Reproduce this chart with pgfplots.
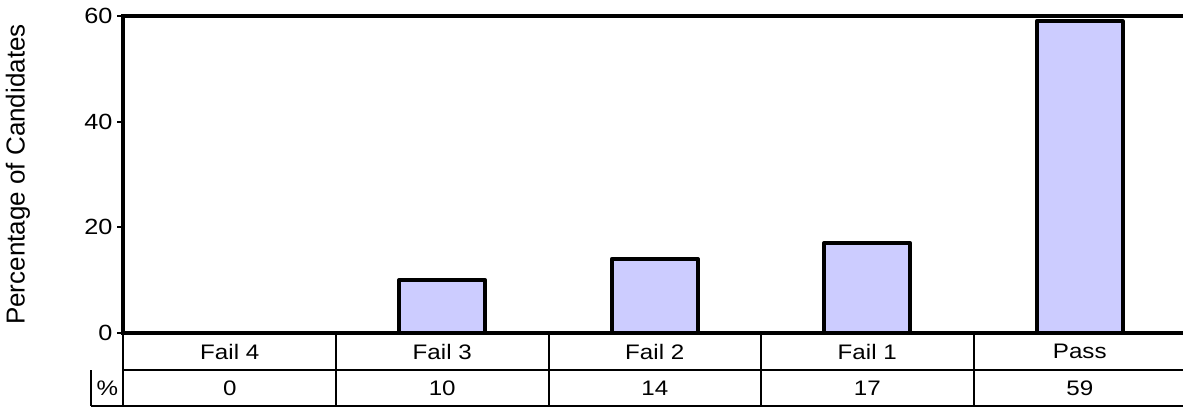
\documentclass[border=0pt]{standalone}
\usepackage{fontspec}
\setmainfont{Liberation Sans}
\newfontfamily\tabfont[FakeStretch=1.15]{Liberation Sans}
\usepackage{pgfplots}
\pgfplotsset{compat=1.18}
\definecolor{barfill}{HTML}{CCCCFF}
\begin{document}
\begin{tikzpicture}
\clip (-61.75pt,-37pt) rectangle (529.75pt,166.5pt);
\begin{axis}[
  at={(0,0)}, anchor=south west,
  scale only axis, width=531.25pt, height=158.5pt,
  xmin=-0.5, xmax=4.5, ymin=0, ymax=60,
  xtick=\empty, ytick={0,20,40,60},
  axis line style={line width=2pt, black},
  ytick align=outside, major tick length=3pt,
  tick style={black, line width=0.9pt},
  y tick label style={font=\tabfont\fontsize{11}{12}\selectfont, xshift=1pt},
  /pgf/number format/assume math mode=true,
  ylabel={Percentage of Candidates},
  ylabel style={font=\fontsize{13}{15}\selectfont, at={(axis description cs:-0.0993,0.5)}, anchor=center},
  clip=false,
]
\addplot[ybar, bar width=0.405, fill=barfill, draw=black, line width=2pt, line join=round]
  coordinates {(0,0) (1,10) (2,14) (3,17) (4,59)};
\end{axis}
% data table below the axis
\begin{scope}[line width=1pt]
  \draw (0,-18.5pt) -- (540pt,-18.5pt);
  \draw (-16.25pt,-36.5pt) -- (540pt,-36.5pt);
  \draw (-16.25pt,-18.5pt) -- (-16.25pt,-36.5pt);
  \draw (0,0) -- (0,-36.5pt);
  \foreach \k in {1,2,3,4} {\draw (106.25pt*\k,0) -- (106.25pt*\k,-36.5pt);}
\end{scope}
\begin{scope}[font=\tabfont\fontsize{10.5}{11}\selectfont]
  \node at (-8.125pt,-27.5pt) {\%};
  \foreach \lab [count=\i from 0] in {Fail 4,Fail 3,Fail 2,Fail 1,Pass}
    {\node at (53.125pt+106.25pt*\i,-9.25pt) {\lab};}
  \foreach \val [count=\i from 0] in {0,10,14,17,59}
    {\node at (53.125pt+106.25pt*\i,-27.5pt) {\val};}
\end{scope}
\end{tikzpicture}
\end{document}
